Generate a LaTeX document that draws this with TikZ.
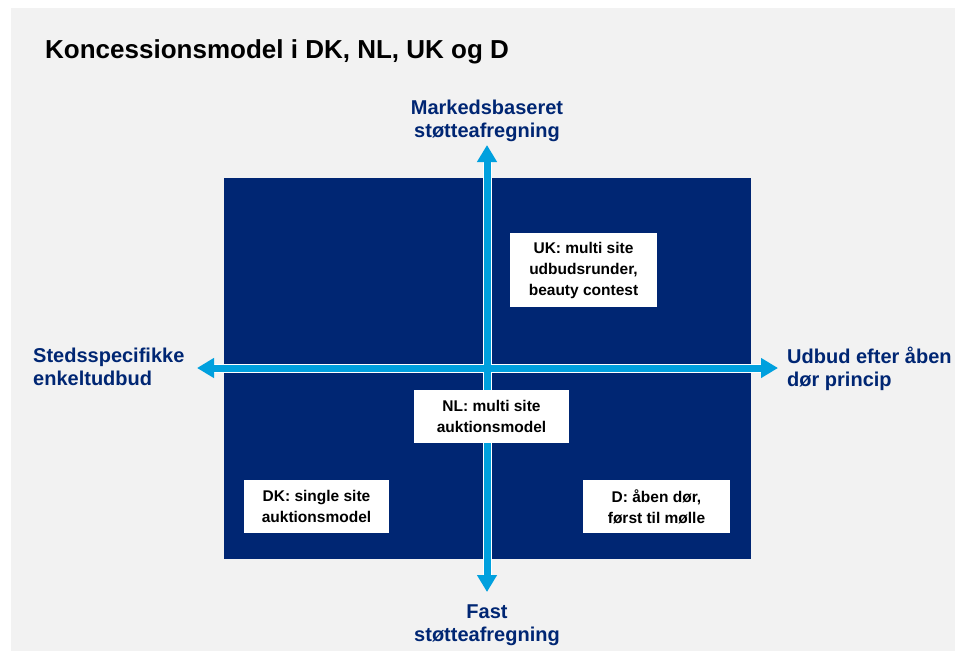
\documentclass[tikz,border=0pt]{standalone}
\usepackage{fontspec}
\setmainfont{Liberation Sans}
\usetikzlibrary{arrows.meta,positioning}
\definecolor{navy}{RGB}{0,38,115}
\definecolor{axisblue}{RGB}{0,160,222}
\definecolor{bggray}{RGB}{242,242,242}
\tikzset{
  axislabel/.style={text=navy, font=\fontsize{20}{23}\selectfont\bfseries, inner sep=0pt},
  countrybox/.style={fill=white, font=\fontsize{15.5}{21}\selectfont\bfseries,
    align=center, inner sep=0pt},
  axisline/.style={axisblue, line width=7pt,
    {Triangle[width=19pt,length=17pt]}-{Triangle[width=19pt,length=17pt]}},
  axisedge/.style={white, line width=9pt, shorten <=17pt, shorten >=17pt},
}

\begin{document}
\begin{tikzpicture}[x=1pt,y=-1pt]
  \useasboundingbox (0,0) rectangle (955,651);
  \fill[bggray] (11,8) rectangle (955,651);
  \node[anchor=base west, inner sep=0pt, font=\fontsize{26}{30}\selectfont\bfseries]
    (title) at (45,58) {Koncessionsmodel i DK, NL, UK og D};
  % dark field behind the axes
  \fill[navy] (224,178) rectangle (751,559);
  % axis end points
  \coordinate (top) at (487,145);
  \coordinate (bottom) at (487,592);
  \coordinate (left) at (197,368);
  \coordinate (right) at (778,368);
  \foreach \a/\b in {bottom/top, left/right}
    \draw[axisedge] (\a) -- (\b);
  \foreach \a/\b in {bottom/top, left/right}
    \draw[axisline] (\a) -- (\b);
  % axis labels
  \node[axislabel, align=center] (lblup) at (487,121) {Markedsbaseret\\støtteafregning};
  \node[axislabel, align=center] (lbldown) at (487,625) {Fast\\støtteafregning};
  \node[axislabel, align=left, anchor=west] (lblleft) at (33,367) {Stedsspecifikke\\enkeltudbud};
  \node[axislabel, align=left, anchor=west] (lblright) at (787,369) {Udbud efter åben\\dør princip};
  % countries
  \node[countrybox, minimum width=147, minimum height=74] (boxuk) at (583.5,270)
    {UK: multi site\\udbudsrunder,\\beauty contest};
  \node[countrybox, minimum width=155, minimum height=53] (boxnl) at (491.5,416.5)
    {NL: multi site\\auktionsmodel};
  \node[countrybox, minimum width=145, minimum height=53] (boxdk) at (316.5,506.5)
    {DK: single site\\auktionsmodel};
  \node[countrybox, minimum width=147, minimum height=53] (boxd) at (656.5,506.5)
    {D: åben dør,\\først til mølle};
\end{tikzpicture}
\end{document}
